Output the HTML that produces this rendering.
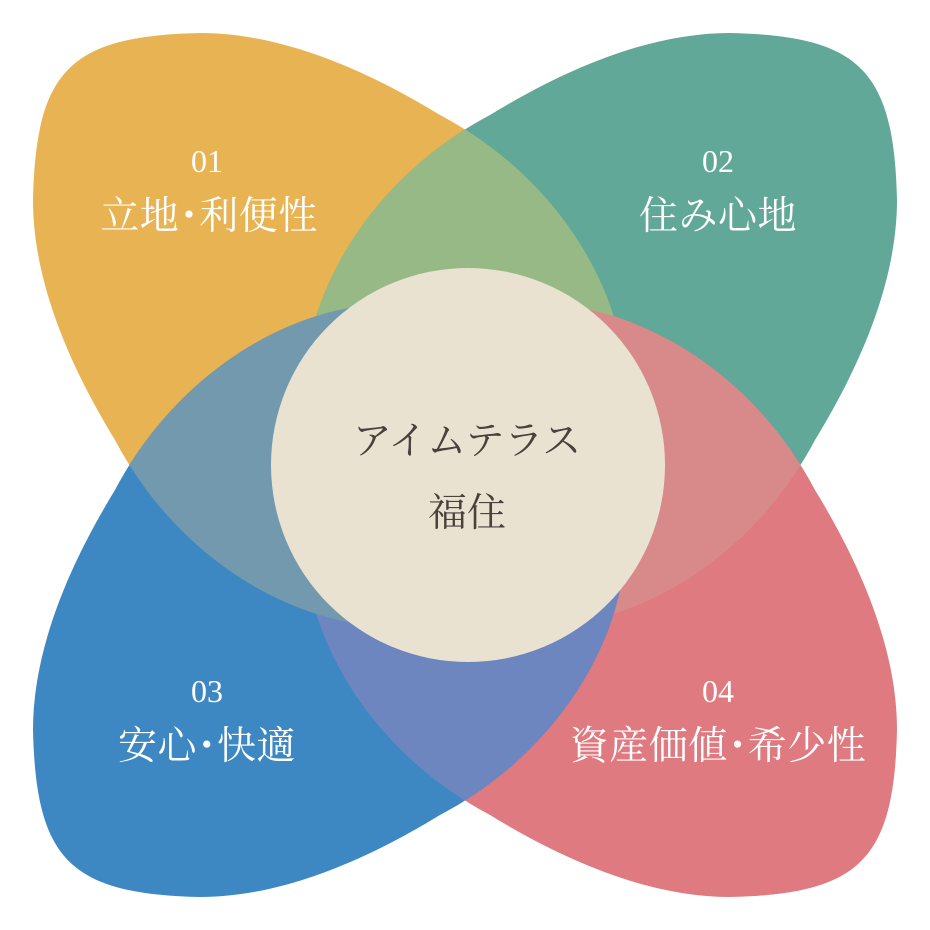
<!DOCTYPE html>
<html><head><meta charset="utf-8"><style>
html,body{margin:0;padding:0;background:#fff}
svg{display:block}
.n{font-family:"Liberation Serif","Noto Serif CJK SC",serif;fill:#fff;font-size:32px;text-anchor:middle}
.l{font-family:"Liberation Serif","Noto Serif CJK SC",serif;fill:#fff;font-size:39px;text-anchor:middle;letter-spacing:0.5px}
.c{font-family:"Liberation Serif","Noto Serif CJK SC",serif;fill:#4a403c;font-size:39px;text-anchor:middle}
</style></head><body>
<svg width="930" height="930" viewBox="0 0 930 930">
<defs>
<path id="p" d="M560,560 C690,430 620,210 440,115 C350,60 270,33 200,33 C70,36 36,70 33,200 C33,270 60,350 115,440 C210,620 430,690 560,560Z"/>
<clipPath id="cy"><use href="#p"/></clipPath>
<clipPath id="ct"><use href="#p" transform="translate(930,0) scale(-1,1)"/></clipPath>
<clipPath id="cr"><use href="#p" transform="rotate(180 465 465)"/></clipPath>
<clipPath id="cb"><use href="#p" transform="translate(0,930) scale(1,-1)"/></clipPath>
</defs>
<use href="#p" fill="#e8b352"/>
<use href="#p" fill="#62a898" transform="translate(930,0) scale(-1,1)"/>
<use href="#p" fill="#de7a80" transform="rotate(180 465 465)"/>
<use href="#p" fill="#3d88c2" transform="translate(0,930) scale(1,-1)"/>
<g clip-path="url(#cy)"><use href="#p" fill="#97b985" transform="translate(930,0) scale(-1,1)"/></g>
<g clip-path="url(#ct)"><use href="#p" fill="#d88a8a" transform="rotate(180 465 465)"/></g>
<g clip-path="url(#cr)"><use href="#p" fill="#6e86c0" transform="translate(0,930) scale(1,-1)"/></g>
<g clip-path="url(#cb)"><use href="#p" fill="#7399ae"/></g>
<ellipse cx="468" cy="465" rx="197" ry="197" fill="#e9e2d1"/>
<text class="n" x="207" y="172">01</text>
<text class="l" x="209" y="229">立地･利便性</text>
<text class="n" x="718" y="172">02</text>
<text class="l" x="718" y="229">住み心地</text>
<text class="n" x="207" y="702">03</text>
<text class="l" x="207" y="759">安心･快適</text>
<text class="n" x="718" y="702">04</text>
<text class="l" x="718" y="759">資産価値･希少性</text>
<text class="c" x="467" y="454">アイムテラス</text>
<text class="c" x="467" y="526">福住</text>
</svg>
</body></html>
